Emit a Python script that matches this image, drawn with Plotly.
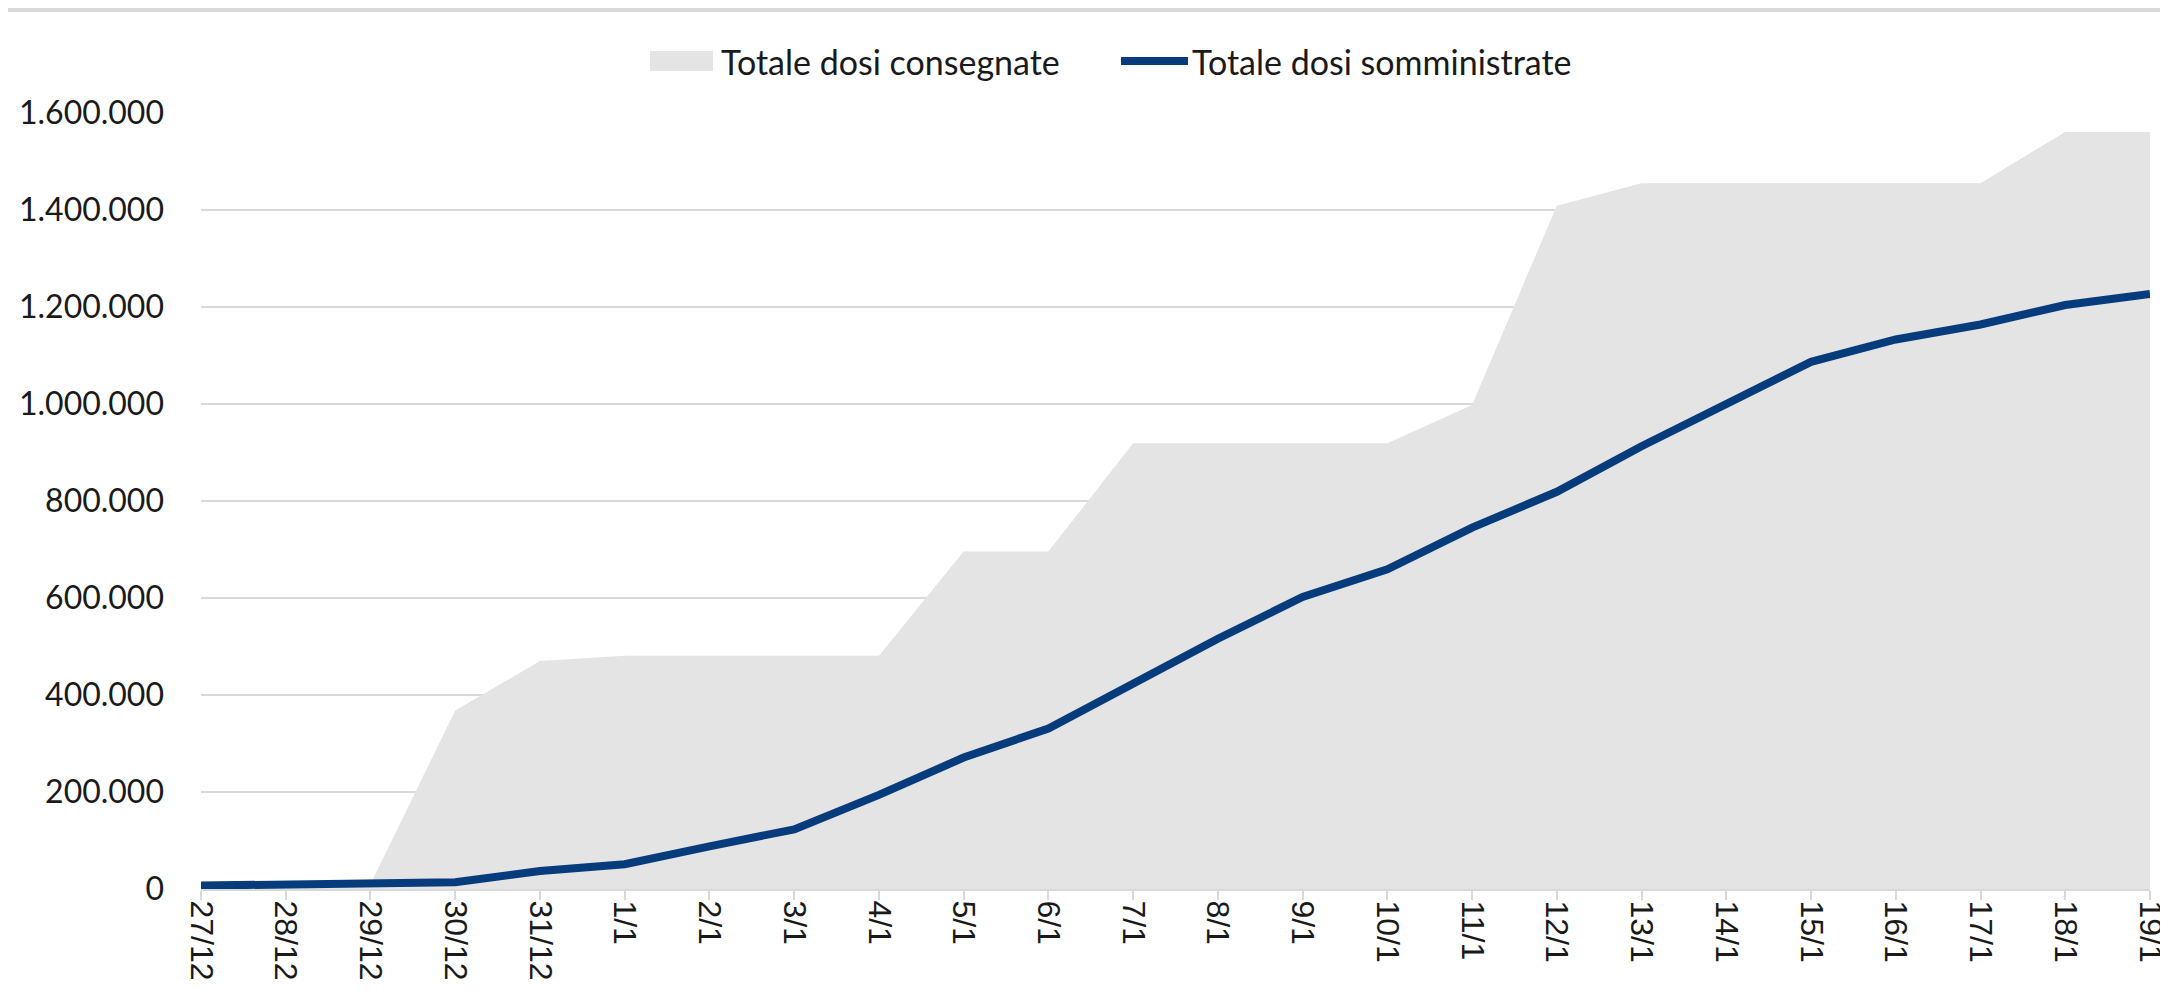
import plotly.graph_objects as go

categories = ["27/12", "28/12", "29/12", "30/12", "31/12", "1/1", "2/1", "3/1", "4/1",
              "5/1", "6/1", "7/1", "8/1", "9/1", "10/1", "11/1", "12/1", "13/1",
              "14/1", "15/1", "16/1", "17/1", "18/1", "19/1"]

dosi_consegnate = [9750, 9750, 9750, 368000, 470000, 481000, 481000, 481000, 481000,
                   696000, 696000, 919000, 919000, 919000, 919000, 998000, 1409000,
                   1455000, 1455000, 1455000, 1455000, 1455000, 1561000, 1561000]

dosi_somministrate = [7000, 8000, 9000, 14000, 37000, 51000, 88000, 123000, 194000,
                      271000, 331000, 422000, 516000, 602000, 659000, 745000, 819000,
                      913000, 998000, 1087000, 1133000, 1164000, 1204000, 1227000]

y_ticks = [0, 200000, 400000, 600000, 800000, 1000000, 1200000, 1400000, 1600000]

series_names = ["Totale dosi consegnate", "Totale dosi somministrate"]
AREA_COLOR = "#E4E4E4"
LINE_COLOR = "#063C7C"

W, H = 2168, 1001
ML, MR, MT, MB = 193, 26, 105, 120
PW = W - ML - MR
PH = H - MT - MB


def px(x):
    return (x - ML) / PW


def py(y):
    return 1 + (MT - y) / PH


fig = go.Figure()
fig.add_trace(go.Scatter(
    x=list(range(len(categories))), y=dosi_consegnate, name=series_names[0],
    mode="none", fill="tozeroy", fillcolor=AREA_COLOR, showlegend=False,
))
fig.add_trace(go.Scatter(
    x=list(range(len(categories))), y=dosi_somministrate, name=series_names[1],
    mode="lines", line=dict(color=LINE_COLOR, width=8), showlegend=False,
))

legend_font = dict(family="Lato, Calibri, sans-serif", size=34, color="#1a1a1a")
LEG_Y = 53
shapes = [
    # top border of the chart frame
    dict(type="line", xref="paper", yref="paper", x0=px(0), x1=px(W),
         y0=py(2), y1=py(2), line=dict(color="#D9D9D9", width=4)),
    # legend symbols
    dict(type="rect", xref="paper", yref="paper", x0=px(642), x1=px(705),
         y0=py(63), y1=py(43), fillcolor=AREA_COLOR, line=dict(width=0)),
    dict(type="line", xref="paper", yref="paper", x0=px(1113), x1=px(1180),
         y0=py(LEG_Y), y1=py(LEG_Y), line=dict(color=LINE_COLOR, width=8)),
]
annotations = [
    dict(text=series_names[0], xref="paper", yref="paper", x=px(711), y=py(LEG_Y),
         xanchor="left", yanchor="middle", showarrow=False, font=legend_font),
    dict(text=series_names[1], xref="paper", yref="paper", x=px(1182), y=py(LEG_Y),
         xanchor="left", yanchor="middle", showarrow=False, font=legend_font),
]

fig.update_layout(
    width=W, height=H,
    margin=dict(l=ML, r=MR, t=MT, b=MB, pad=0),
    paper_bgcolor="white", plot_bgcolor="white",
    separators=",.",
    font=dict(family="Lato, Calibri, sans-serif", color="#1a1a1a"),
    showlegend=False,
    shapes=shapes,
    annotations=annotations,
)

fig.update_xaxes(
    range=[0, len(categories) - 1], automargin=False,
    tickmode="array", tickvals=list(range(len(categories))), ticktext=categories,
    tickangle=90, ticks="outside", ticklen=9, tickwidth=2, tickcolor="#D9D9D9",
    ticklabelstandoff=-6,
    showline=True, linecolor="#D9D9D9", linewidth=2,
    showgrid=False, zeroline=False,
    tickfont=dict(family="Liberation Sans, Arial, sans-serif", size=32, color="#1a1a1a"),
)
fig.update_yaxes(
    range=[0, 1600000], tickmode="array", tickvals=y_ticks, automargin=False,
    tickformat=",d", showgrid=True, gridcolor="#D9D9D9", gridwidth=2,
    zeroline=False, showline=False, ticks="", ticklabelstandoff=36,
    tickfont=dict(family="Lato, Calibri, sans-serif", size=32, color="#1a1a1a"),
)

fig.write_html("out.html")
